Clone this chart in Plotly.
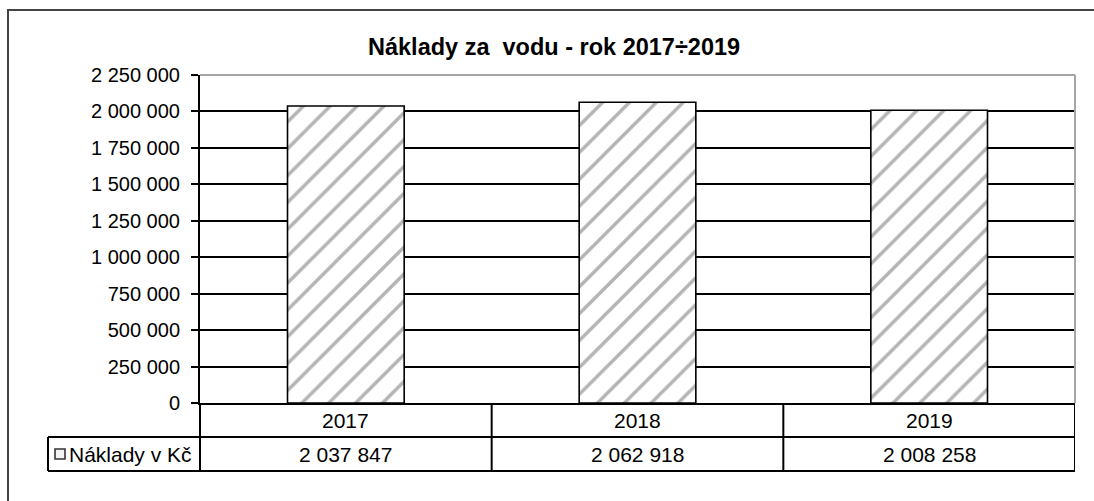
import plotly.graph_objects as go

# ---- data ----
years = ["2017", "2018", "2019"]
costs = [2037847, 2062918, 2008258]
series_name = "Náklady v Kč"
chart_title = "<b>Náklady za \u00a0vodu - rok 2017÷2019</b>"
y_tick_values = [0, 250000, 500000, 750000, 1000000, 1250000, 1500000, 1750000, 2000000, 2250000]

FONT = "Liberation Sans, Arial, sans-serif"

# ---- pixel layout helpers ----
W, H = 1094, 501
L, R, T, B = 200, 1075, 75, 403  # plot area in px


def px(xp):
    return (xp - L) / (R - L)


def py(yp):
    return (B - yp) / (B - T)


def fmt(v):
    return f"{v:,}".replace(",", " ")


xs = list(range(len(years)))

fig = go.Figure()
fig.add_trace(go.Bar(
    x=xs, y=costs, width=0.4, name=series_name,
    marker=dict(
        color="white",
        line=dict(color="black", width=1.6),
        pattern=dict(shape="/", fgcolor="#6a6a6a", bgcolor="white", size=19, solidity=0.18),
    ),
    showlegend=False,
))

shapes = []
# outer chart border
shapes.append(dict(type="rect", xref="paper", yref="paper",
                   x0=px(8), x1=px(1110), y0=py(520), y1=py(10),
                   line=dict(color="#444444", width=2), layer="below"))
# plot area border (gray top & right)
shapes.append(dict(type="line", xref="paper", yref="paper", x0=0, x1=1, y0=1, y1=1,
                   line=dict(color="#a6a6a6", width=2)))
shapes.append(dict(type="line", xref="paper", yref="paper", x0=1, x1=1, y0=0, y1=1,
                   line=dict(color="#a6a6a6", width=2)))

tl = dict(color="black", width=2)
y_row1 = py(437)
y_row2 = py(471)
# horizontal table lines
shapes.append(dict(type="line", xref="paper", yref="paper", x0=px(48), x1=1, y0=y_row1, y1=y_row1, line=tl))
shapes.append(dict(type="line", xref="paper", yref="paper", x0=px(48), x1=1, y0=y_row2, y1=y_row2, line=tl))
# vertical table lines
shapes.append(dict(type="line", xref="paper", yref="paper", x0=px(48), x1=px(48), y0=y_row1, y1=y_row2, line=tl))
shapes.append(dict(type="line", xref="paper", yref="paper", x0=0, x1=0, y0=0, y1=y_row2, line=tl))
for xb in [0.5, 1.5, 2.5]:
    shapes.append(dict(type="line", xref="x", yref="paper", x0=xb, x1=xb, y0=0, y1=y_row2, line=tl))
# legend key
shapes.append(dict(type="rect", xref="paper", yref="paper",
                   x0=px(55), x1=px(65), y0=py(459), y1=py(449),
                   fillcolor="#f4f4f4", line=dict(color="#333333", width=1.6)))

annotations = []
annotations.append(dict(text=chart_title, xref="paper", yref="paper", x=px(554), y=py(47),
                        xanchor="center", yanchor="middle", showarrow=False,
                        font=dict(family=FONT, size=23.5, color="black")))
for i, (yr, v) in enumerate(zip(years, costs)):
    annotations.append(dict(text=yr, xref="x", yref="paper", x=i, y=py(420),
                            xanchor="center", yanchor="middle", showarrow=False,
                            font=dict(family=FONT, size=21, color="black")))
    annotations.append(dict(text=fmt(v), xref="x", yref="paper", x=i, y=py(454),
                            xanchor="center", yanchor="middle", showarrow=False,
                            font=dict(family=FONT, size=21, color="black")))
annotations.append(dict(text=series_name, xref="paper", yref="paper", x=px(67), y=py(454),
                        xanchor="left", yanchor="middle", showarrow=False,
                        font=dict(family=FONT, size=21, color="black")))

fig.update_layout(
    width=W, height=H,
    margin=dict(l=L, r=W - R, t=T, b=H - B, pad=0),
    paper_bgcolor="white", plot_bgcolor="white",
    font=dict(family=FONT, size=20, color="black"),
    bargap=0.6,
    shapes=shapes,
    annotations=annotations,
    xaxis=dict(range=[-0.5, 2.5], showticklabels=False, ticks="", showgrid=False,
               zeroline=False, showline=True, linecolor="black", linewidth=2, fixedrange=True),
    yaxis=dict(range=[0, 2250000], tickvals=y_tick_values,
               ticktext=[fmt(v) for v in y_tick_values],
               ticks="outside", ticklen=7, tickwidth=1.6, tickcolor="black",
               showgrid=True, gridcolor="black", gridwidth=1.6,
               zeroline=False, showline=True, linecolor="black", linewidth=2,
               ticklabelstandoff=7, tickfont=dict(family=FONT, size=20, color="black"),
               fixedrange=True),
)

fig.write_html(
    "out.html",
    config={"displayModeBar": False},
    post_script="document.body.style.margin='0';document.body.style.overflow='hidden';",
)
